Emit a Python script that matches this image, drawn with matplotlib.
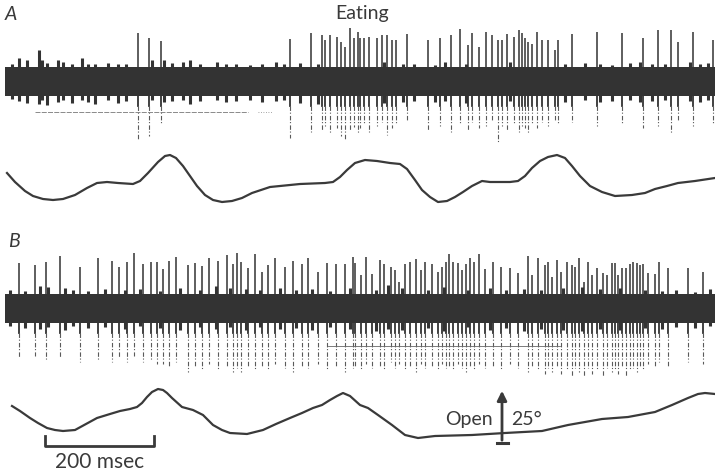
import matplotlib
matplotlib.use('Agg')
import matplotlib.pyplot as plt

# --- spike records: (time position, tip of upward deflection, tip of downward deflection)
spikes_a = [
    (138, 33, 140), (149, 38, 136), (161, 41, 124),
    (290, 39, 138), (311, 33, 132), (322, 35, 130), (325, 40, 126), (330, 35, 134),
    (337, 37, 128), (341, 42, 136), (345, 47, 140), (350, 28, 130), (354, 38, 127),
    (358, 32, 133), (360, 38, 128), (364, 38, 124), (369, 37, 132), (377, 38, 126),
    (382, 35, 122), (387, 35, 135), (392, 40, 128), (396, 40, 124), (407, 34, 120),
    (428, 40, 130), (440, 38, 126), (451, 35, 132), (460, 29, 124), (468, 45, 130),
    (472, 33, 122), (479, 47, 128), (486, 32, 126), (492, 35, 120), (498, 40, 142),
    (502, 40, 126), (507, 34, 130), (514, 37, 124), (519, 30, 132), (522, 33, 126),
    (525, 38, 128), (528, 42, 134), (532, 44, 124), (537, 32, 128), (542, 40, 122),
    (548, 40, 126), (555, 50, 120), (558, 40, 124), (572, 34, 122), (597, 32, 126),
    (622, 33, 124), (643, 38, 128), (658, 30, 126), (671, 30, 134), (678, 42, 120),
    (693, 32, 126), (713, 40, 124),
]
# small deflections poking out of the noise: (position, top tip, bottom tip)
bumps_a = [
    (12, 64, 99), (19, 58, 101), (27, 60, 103), (39, 50, 104), (42, 60, 100),
    (47, 63, 105), (58, 60, 102), (63, 62, 100), (72, 64, 103), (82, 58, 100),
    (88, 64, 102), (95, 64, 104), (108, 63, 100), (118, 64, 103), (126, 64, 101),
    (152, 60, 100), (164, 60, 102), (172, 63, 101), (183, 62, 100), (190, 60, 104),
    (200, 64, 101), (217, 62, 100), (226, 64, 102), (236, 64, 101), (250, 65, 100),
    (262, 64, 102), (276, 62, 101), (284, 64, 100), (300, 63, 103), (318, 64, 104),
    (384, 62, 103), (403, 64, 102), (414, 64, 101), (435, 65, 102), (445, 62, 101),
    (466, 64, 103), (510, 62, 101), (565, 64, 102), (585, 63, 100), (600, 64, 102),
    (612, 65, 101), (630, 63, 100), (640, 62, 102), (652, 64, 101), (665, 64, 100),
    (690, 62, 101), (700, 64, 102), (708, 63, 100),
]
spikes_b = [
    (19, 263, 358), (35, 265, 356), (46, 262, 360), (60, 256, 358), (80, 267, 362),
    (98, 258, 360), (112, 261, 362), (119, 267, 358), (127, 262, 362), (134, 253, 356),
    (143, 264, 362), (151, 262, 360), (157, 262, 364), (163, 269, 364), (169, 261, 366),
    (176, 257, 362), (188, 265, 372), (195, 263, 366), (202, 266, 370), (209, 258, 364),
    (218, 261, 370), (227, 255, 366), (233, 264, 372), (237, 253, 368), (241, 262, 372),
    (248, 268, 366), (255, 254, 370), (262, 272, 366), (268, 265, 370), (275, 258, 364),
    (285, 267, 368), (293, 261, 372), (302, 264, 366), (308, 258, 368), (318, 272, 364),
    (327, 263, 370), (336, 264, 366), (345, 264, 372), (353, 257, 368), (355, 263, 366),
    (361, 275, 370), (366, 257, 364), (372, 274, 368), (380, 260, 366), (384, 264, 370),
    (391, 267, 362), (395, 270, 368), (399, 282, 364), (405, 264, 370), (410, 262, 366),
    (416, 259, 372), (421, 270, 364), (425, 262, 368), (432, 264, 366), (438, 272, 370),
    (442, 267, 364), (446, 262, 368), (449, 254, 366), (453, 262, 370), (458, 263, 364),
    (462, 270, 368), (466, 264, 372), (470, 258, 366), (474, 262, 370), (479, 254, 364),
    (485, 269, 368), (493, 262, 366), (501, 267, 370), (510, 268, 364), (518, 273, 368),
    (528, 256, 372), (532, 275, 366), (538, 258, 370), (545, 265, 374), (548, 262, 368),
    (552, 277, 372), (557, 260, 366), (561, 272, 374), (567, 262, 370), (572, 265, 376),
    (575, 267, 368), (579, 258, 372), (584, 282, 376), (588, 262, 368), (592, 275, 374),
    (597, 268, 370), (603, 273, 376), (607, 275, 368), (612, 263, 372), (615, 263, 370),
    (618, 275, 374), (622, 268, 366), (626, 268, 376), (630, 264, 370), (633, 262, 368),
    (637, 263, 372), (640, 265, 366), (643, 264, 370), (648, 273, 364), (655, 274, 366),
    (659, 262, 362), (668, 268, 366), (688, 268, 362), (703, 272, 364),
]
bumps_b = [
    (10, 290, 326), (25, 291, 328), (40, 286, 329), (48, 287, 327), (65, 288, 330),
    (73, 290, 326), (88, 291, 328), (105, 289, 327), (125, 290, 329), (140, 289, 326),
    (160, 291, 328), (180, 288, 330), (200, 290, 327), (216, 286, 329), (230, 288, 327),
    (246, 289, 330), (260, 290, 327), (280, 288, 329), (296, 290, 328), (312, 289, 330),
    (330, 291, 327), (350, 288, 329), (376, 290, 331), (388, 285, 329), (402, 288, 330),
    (428, 290, 328), (444, 287, 331), (468, 290, 327), (490, 288, 330), (506, 290, 328),
    (524, 289, 331), (541, 290, 329), (563, 288, 330), (582, 287, 331), (600, 289, 329),
    (620, 288, 330), (645, 290, 328), (662, 291, 329), (676, 290, 327), (695, 292, 328),
    (710, 289, 326),
]

# --- jaw position traces
jaw_a_t = [7, 15, 25, 33, 43, 53, 63, 75, 87, 97, 107, 118, 133, 140, 148, 158, 165,
           170, 176, 183, 190, 197, 205, 213, 222, 232, 242, 252, 270, 300, 325, 333,
           340, 347, 355, 365, 377, 390, 400, 407, 415, 422, 430, 438, 447, 455, 463,
           472, 482, 490, 500, 510, 518, 525, 532, 540, 548, 557, 565, 572, 580, 590,
           602, 615, 632, 645, 655, 667, 678, 695, 715]
jaw_a_y = [173, 182, 191, 196, 199, 200, 199, 195, 188, 183, 182, 183, 184, 181, 173,
           162, 156, 155, 158, 166, 176, 186, 195, 200, 202, 201, 198, 193, 187, 184,
           183, 182, 177, 170, 163, 160, 161, 163, 164, 169, 180, 190, 197, 202, 201,
           197, 192, 186, 181, 182, 182, 182, 181, 176, 168, 161, 157, 155, 158, 166,
           176, 186, 192, 196, 195, 193, 189, 186, 183, 181, 178]
jaw_b_t = [12, 20, 30, 38, 47, 55, 63, 75, 86, 97, 110, 120, 130, 137, 142, 147, 152,
           158, 163, 167, 172, 182, 193, 203, 213, 222, 230, 247, 263, 276, 290, 302,
           313, 322, 330, 337, 343, 350, 360, 368, 378, 392, 405, 418, 435, 472, 505,
           542, 568, 602, 628, 655, 672, 688, 698, 705, 715]
jaw_b_y = [406, 411, 418, 423, 428, 430, 431, 430, 424, 418, 414, 411, 409, 407, 403,
           397, 392, 389, 390, 393, 398, 407, 410, 415, 425, 430, 433, 434, 430, 424,
           418, 413, 408, 405, 400, 396, 393, 396, 405, 408, 415, 425, 435, 438, 436,
           435, 433, 431, 425, 419, 417, 412, 405, 398, 394, 393, 394]

band_a = (67, 96)
band_b = (294, 323)
x_start, x_end = 5, 715
ink = '#333333'
pen = '#3a3a3a'

fig = plt.figure(figsize=(7.15, 4.73), dpi=100)
ax = fig.add_axes([0, 0, 1, 1])
ax.set_xlim(0, 715)
ax.set_ylim(473, 0)
ax.axis('off')

# noise bands
for top, bottom in (band_a, band_b):
    ax.fill_between([x_start, x_end], top, bottom, color=ink, lw=0)

# ragged edges of the noise
for bumps in (bumps_a, bumps_b):
    for x, hi, lo in bumps:
        ax.plot([x, x], [hi, lo], color=ink, lw=2.2, solid_capstyle='butt')

for spikes, (top, bottom) in ((spikes_a, band_a), (spikes_b, band_b)):
    for x, up, down in spikes:
        ax.plot([x, x], [top + 2, up], color=ink, lw=1.1, solid_capstyle='butt')
        ax.plot([x, x], [bottom - 2, bottom + 10], color=ink, lw=1.3)
        ax.plot([x, x], [bottom + 10, down], color='#5a5a5a', lw=0.8,
                linestyle=(0, (4, 1.5, 1, 2)))

# faint baseline lines below the bands
ax.plot([35, 248], [112, 112], color='#777777', lw=0.6, linestyle=(0, (6, 1.5)))
ax.plot([258, 272], [112, 112], color='#888888', lw=0.6, linestyle=(0, (1, 2)))
ax.plot([328, 560], [346, 346], color='#666666', lw=0.6)

# jaw movement traces
ax.plot(jaw_a_t, jaw_a_y, color=pen, lw=1.6, solid_joinstyle='round')
ax.plot(jaw_b_t, jaw_b_y, color=pen, lw=1.6, solid_joinstyle='round')

# time scale bar
ax.plot([45, 45, 154, 154], [436, 446, 446, 436], color=pen, lw=2.0)
ax.text(100, 462, '200 msec', ha='center', va='center', fontsize=15,
        family='Lato', color=pen)

# jaw opening calibration
ax.annotate('', xy=(502, 388), xytext=(502, 443),
            arrowprops=dict(arrowstyle='-|>', color=pen, lw=2.0,
                            mutation_scale=14))
ax.plot([497, 508], [443, 443], color=pen, lw=2.2)
ax.text(493, 419, 'Open', ha='right', va='center', fontsize=14,
        family='Lato', color=pen)
ax.text(511, 419, '25°', ha='left', va='center', fontsize=14,
        family='Lato', color=pen)

ax.text(11, 14, 'A', ha='center', va='center', fontsize=14, style='italic',
        family='Lato', color=pen)
ax.text(14, 241, 'B', ha='center', va='center', fontsize=14, style='italic',
        family='Lato', color=pen)
ax.text(362, 14, 'Eating', ha='center', va='center', fontsize=14,
        family='Lato', color=pen)

fig.savefig('out.png', dpi=100)
